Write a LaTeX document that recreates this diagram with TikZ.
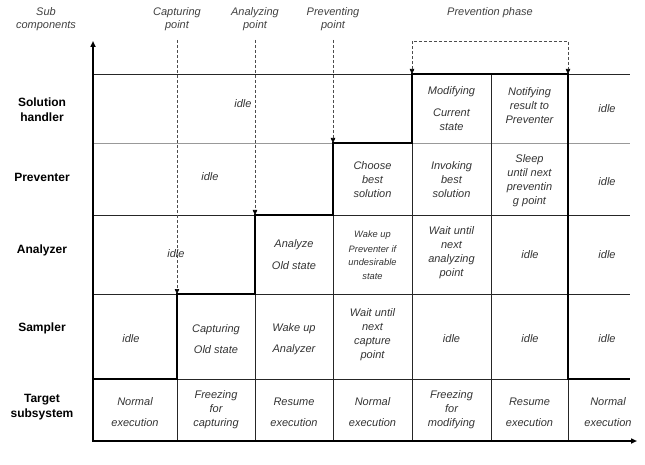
\documentclass[tikz,border=0pt]{standalone}
\usepackage{fontspec}
\setmainfont{Liberation Sans}
\usetikzlibrary{arrows.meta}
\begin{document}
\begin{tikzpicture}[x=1pt,y=-1pt,
  cell/.style={font=\fontsize{11}{14}\selectfont\itshape, text=black!80, align=center, inner sep=0pt},
  smallcell/.style={font=\fontsize{9.3}{13.5}\selectfont\itshape, text=black!80, align=center, inner sep=0pt},
  rowlab/.style={font=\fontsize{12}{15}\selectfont\bfseries, align=center, inner sep=0pt},
  toplab/.style={font=\fontsize{11}{13}\selectfont\itshape, text=black!75, align=center, inner sep=0pt},
  gridline/.style={line width=0.6pt, black!85},
  graygrid/.style={line width=0.7pt, black!40},
  stepline/.style={line width=2.2pt, black, line join=miter},
  axisline/.style={line width=1.8pt, black},
  dashline/.style={line width=0.6pt, black!70, dash pattern=on 3pt off 2pt},
  tip/.style={-{Triangle[length=5pt,width=4.5pt,color=black]}},
  bothtips/.style={{Triangle[length=5pt,width=4.5pt,color=black]}-{Triangle[length=5pt,width=4.5pt,color=black]}},
]
\useasboundingbox (0,0) rectangle (645,465);
% column and row coordinates
\coordinate (c0) at (93,0);
\coordinate (c1) at (177,0);
\coordinate (c2) at (255,0);
\coordinate (c3) at (333,0);
\coordinate (c4) at (412,0);
\coordinate (c5) at (491,0);
\coordinate (c6) at (568,0);
\coordinate (c7) at (630,0);
\coordinate (cx) at (637,0);
\coordinate (cm) at (490,0);
\coordinate (ra) at (0,41);
\coordinate (rt) at (0,40);
\coordinate (rb) at (0,41);
\coordinate (r0) at (0,74);
\coordinate (r1) at (0,143);
\coordinate (r2) at (0,215);
\coordinate (r3) at (0,294);
\coordinate (r4) at (0,379);
\coordinate (r5) at (0,441);

% horizontal grid lines
\draw[gridline] (c0|-r0) -- (c7|-r0);
\draw[graygrid] (c0|-r1) -- (c7|-r1);
\draw[gridline] (c0|-r2) -- (c7|-r2);
\draw[gridline] (c0|-r3) -- (c7|-r3);
\draw[gridline] (c0|-r4) -- (c7|-r4);
% vertical grid lines
\draw[gridline] (c1|-r4) -- (c1|-r5);
\draw[gridline] (c2|-r3) -- (c2|-r5);
\draw[gridline] (c3|-r2) -- (c3|-r5);
\draw[gridline] (c4|-r1) -- (c4|-r5);
\draw[gridline] (c5|-r0) -- (c5|-r5);
\draw[gridline] (c6|-r4) -- (c6|-r5);

% dashed event arrows
\draw[dashline, tip] (c1|-rt) -- (c1|-r3);
\draw[dashline, tip] (c2|-rt) -- (c2|-r2);
\draw[dashline, tip] (c3|-rt) -- (c3|-r1);
\draw[dashline, bothtips] (c4|-r0) |- (cm|-rb) -| (c6|-r0);

% step line
\draw[stepline] (c0|-r4) -| (c1|-r3) -| (c2|-r2) -| (c3|-r1) -| (c4|-r0) -| (c6|-r4) -- (c7|-r4);

% axes
\draw[axisline, {Triangle[length=6pt,width=5pt]}-{Triangle[length=6pt,width=5pt]}] (c0|-ra) -- (c0|-r5) -- (cx|-r5);

% top labels
\node[toplab] (subc) at (46,19) {Sub\\components};
\node[toplab] (capt) at (177,19) {Capturing\\point};
\node[toplab] (anap) at (255,19) {Analyzing\\point};
\node[toplab] (prep) at (333,19) {Preventing\\point};
\node[toplab] (phase) at (490,13) {Prevention phase};

% row labels
\node[rowlab] (lsol) at (42,110) {Solution\\handler};
\node[rowlab] (lpre) at (42,177) {Preventer};
\node[rowlab] (lana) at (42,250) {Analyzer};
\node[rowlab] (lsam) at (42,328) {Sampler};
\node[rowlab] (ltar) at (42,407) {Target\\subsystem};

% Solution handler row
\node[cell] (s1) at (243,104) {idle};
\node[cell] (s2) at (451.5,109) {Modifying\\[8pt]Current\\state};
\node[cell] (s3) at (529.5,106) {Notifying\\result to\\Preventer};
\node[cell] (s4) at (607,109) {idle};

% Preventer row
\node[cell] (p1) at (210,177) {idle};
\node[cell] (p2) at (372.5,180) {Choose\\best\\solution};
\node[cell] (p3) at (451.5,180) {Invoking\\best\\solution};
\node[cell] (p4) at (529.5,181) {Sleep\\until next\\preventin\\g point};
\node[cell] (p5) at (607,182) {idle};

% Analyzer row
\node[cell] (a1) at (176,254) {idle};
\node[cell] (a2) at (294,255) {Analyze\\[8pt]Old state};
\node[smallcell] (a3) at (372.5,255) {Wake up\\[1.5pt]Preventer if\\undesirable\\state};
\node[cell] (a4) at (451.5,253) {Wait until\\next\\analyzing\\point};
\node[cell] (a5) at (530,255) {idle};
\node[cell] (a6) at (607,255) {idle};

% Sampler row
\node[cell] (m1) at (131,339) {idle};
\node[cell] (m2) at (216,339) {Capturing\\[7pt]Old state};
\node[cell] (m3) at (294,339) {Wake up\\[7pt]Analyzer};
\node[cell] (m4) at (372.5,335) {Wait until\\next\\capture\\point};
\node[cell] (m5) at (451.5,339) {idle};
\node[cell] (m6) at (530,339) {idle};
\node[cell] (m7) at (607,339) {idle};

% Target subsystem row
\node[cell] (t1) at (135,412) {Normal\\[7pt]execution};
\node[cell] (t2) at (216,410) {Freezing\\for\\capturing};
\node[cell] (t3) at (294,412) {Resume\\[7pt]execution};
\node[cell] (t4) at (372.5,412) {Normal\\[7pt]execution};
\node[cell] (t5) at (451.5,410) {Freezing\\for\\modifying};
\node[cell] (t6) at (529.5,412) {Resume\\[7pt]execution};
\node[cell] (t7) at (608,412) {Normal\\[7pt]execution};
\end{tikzpicture}
\end{document}
